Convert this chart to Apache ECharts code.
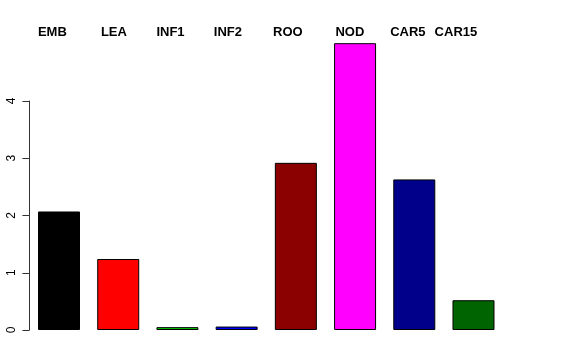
<!DOCTYPE html>
<html><head><meta charset="utf-8">
<script src="https://cdn.jsdelivr.net/npm/echarts@6/dist/echarts.min.js"></script>
<style>html,body{margin:0;padding:0;background:#fff}#c{width:576px;height:360px}</style>
</head><body><div id="c"></div>
<script>
const categories = ["EMB","LEA","INF1","INF2","ROO","NOD","CAR5","CAR15"];
const values = [2.07, 1.24, 0.05, 0.06, 2.92, 5.01, 2.63, 0.52];
const colors = ["#000000","#FF0000","#00CD00","#0000FF","#8B0000","#FF00FF","#00008B","#006400"];
const yTicks = [0,1,2,3,4];

// small per-label horizontal nudges (layout only)
const nudge = [0.7, 4.5, 3.3, 3, 5.2, 9.5, 9.7, 0];
const rich = {};
nudge.forEach((d,i)=>{
  rich['p'+i] = {padding:[0,0,0,2*d], fontWeight:'bold', fontSize:13, color:'#000', fontFamily:'Liberation Sans, Arial, sans-serif'};
});

const chart = echarts.init(document.getElementById('c'), null, {renderer:'canvas'});
chart.setOption({
  animation:false,
  grid:[
    {left:29.4, right:72.9, top:101, bottom:30, containLabel:false},
    {left:22.8, width:462, top:101, bottom:30, containLabel:false}
  ],
  xAxis:[
    {type:'category', gridIndex:0, data:categories, axisLine:{show:false}, axisTick:{show:false}, axisLabel:{show:false}, splitLine:{show:false}},
    {type:'category', gridIndex:1, position:'top', data:categories, axisLine:{show:false}, axisTick:{show:false}, splitLine:{show:false},
     axisLabel:{show:true, margin:62, interval:0, formatter:(v,i)=>'{p'+i+'|'+v+'}', rich:rich}}
  ],
  yAxis:[
    {type:'value', gridIndex:0, min:yTicks[0], max:yTicks[yTicks.length-1], interval:1,
     axisLine:{show:true, lineStyle:{color:'#333', width:1}},
     axisTick:{show:true, length:7, lineStyle:{color:'#333'}},
     splitLine:{show:false},
     axisLabel:{rotate:90, margin:12, color:'#000', fontSize:12, fontFamily:'Liberation Sans, Arial, sans-serif'}},
    {type:'value', gridIndex:1, show:false, min:0, max:4}
  ],
  series:[{
    type:'bar', xAxisIndex:0, yAxisIndex:0, barWidth:42, clip:false,
    data: values.map((v,i)=>({value:v, itemStyle:{color:colors[i]}})),
    itemStyle:{borderColor:'#000', borderWidth:1}
  }]
});
</script></body></html>
